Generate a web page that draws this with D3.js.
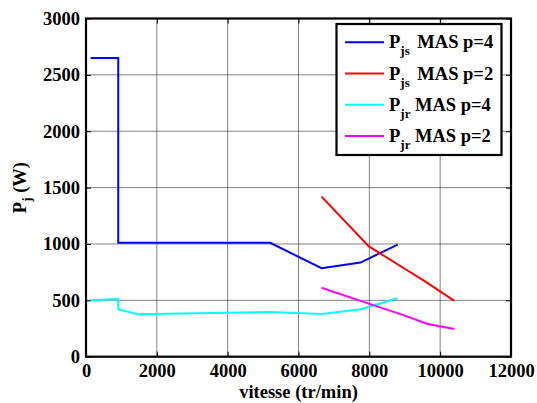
<!DOCTYPE html>
<html><head><meta charset="utf-8">
<script src="https://cdn.jsdelivr.net/npm/d3@7"></script>
<style>body{margin:0;background:#fff}svg{display:block}</style>
</head><body>
<svg id="c" width="537" height="403"></svg>
<script>
const xTicks = [0,2000,4000,6000,8000,10000,12000];
const yTicks = [0,500,1000,1500,2000,2500,3000];
const pjsP4 = [[130,2650],[910,2650],[910,1010],[5200,1010],[6650,785],[7750,835],[8800,995]];
const pjsP2 = [[6650,1420],[7980,980],[9100,760],[9650,652],[10400,495]];
const pjrP4 = [[130,500],[910,512],[910,421],[1450,376],[5200,397],[6650,378],[7750,421],[8800,518]];
const pjrP2 = [[6650,612],[7750,495],[8900,375],[9650,290],[10400,245]];
const seriesNames = ["MAS p=4","MAS p=2","MAS p=4","MAS p=2"];
const seriesSubs = ["js","js","jr","jr"];
const seriesColors = ["#0000ff","#ff0000","#00ffff","#ff00ff"];
const seriesData = [pjsP4,pjsP2,pjrP4,pjrP2];

const svg = d3.select("#c");
const L=86,R=511,T=18.5,B=356.7;
const x = d3.scaleLinear().domain([0,12000]).range([L,R]);
const y = d3.scaleLinear().domain([0,3000]).range([B,T]);
const font = "Liberation Serif";
const fs = "18.5px";

// grid
svg.append("g").selectAll("line").data(xTicks.slice(1,-1)).join("line")
  .attr("x1",d=>x(d)).attr("x2",d=>x(d)).attr("y1",T).attr("y2",B)
  .attr("stroke","#333").attr("stroke-width",0.6);
svg.append("g").selectAll("line").data(yTicks.slice(1,-1)).join("line")
  .attr("y1",d=>y(d)).attr("y2",d=>y(d)).attr("x1",L).attr("x2",R)
  .attr("stroke","#333").attr("stroke-width",0.6);

// axes with inner ticks
const ax = d3.axisBottom(x).tickValues(xTicks).tickSize(-5).tickPadding(7).tickFormat(d3.format("d"));
const ay = d3.axisLeft(y).tickValues(yTicks).tickSize(-5).tickPadding(6).tickFormat(d3.format("d"));
const gx = svg.append("g").attr("transform",`translate(0,${B})`).call(ax);
const gy = svg.append("g").attr("transform",`translate(${L},0)`).call(ay);
const gx2 = svg.append("g").attr("transform",`translate(0,${T})`).call(d3.axisTop(x).tickValues(xTicks).tickSize(-5).tickFormat(""));
const gy2 = svg.append("g").attr("transform",`translate(${R},0)`).call(d3.axisRight(y).tickValues(yTicks).tickSize(-5).tickFormat(""));
[gx,gy,gx2,gy2].forEach(g=>{
  g.attr("font-family",font).attr("font-size",fs).attr("font-weight","bold");
  g.select(".domain").remove();
  g.selectAll("line").attr("stroke","#000").attr("stroke-width",1);
  g.selectAll("text").attr("fill","#000");
});
svg.append("rect").attr("x",L).attr("y",T).attr("width",R-L).attr("height",B-T)
  .attr("fill","none").attr("stroke","#000").attr("stroke-width",2.2);

// lines
const line = d3.line().x(d=>x(d[0])).y(d=>y(d[1]));
seriesData.forEach((d,i)=>{
  svg.append("path").datum(d).attr("d",line).attr("fill","none")
    .attr("stroke",seriesColors[i]).attr("stroke-width",2);
});

// labels
svg.append("text").attr("x",(L+R)/2).attr("y",397.5).attr("text-anchor","middle")
  .attr("font-family",font).attr("font-weight","bold").attr("font-size",fs).text("vitesse (tr/min)");
const yl = svg.append("text").attr("transform",`translate(25.5,${(T+B)/2}) rotate(-90)`).attr("text-anchor","middle")
  .attr("font-family",font).attr("font-weight","bold").attr("font-size",fs);
yl.append("tspan").text("P");
yl.append("tspan").attr("font-size","13px").attr("dy",5).text("j");
yl.append("tspan").attr("dy",-5).text(" (W)");

// legend
const lg = svg.append("g");
lg.append("rect").attr("x",336.5).attr("y",24).attr("width",165).attr("height",131)
  .attr("fill","#fff").attr("stroke","#000").attr("stroke-width",2.2);
seriesNames.forEach((n,i)=>{
  const yy = 42.3 + i*31.2;
  lg.append("line").attr("x1",345).attr("x2",384).attr("y1",yy).attr("y2",yy)
    .attr("stroke",seriesColors[i]).attr("stroke-width",2);
  const t = lg.append("text").attr("x",389).attr("y",yy+6)
    .attr("font-family",font).attr("font-weight","bold").attr("font-size",fs);
  t.append("tspan").text("P");
  t.append("tspan").attr("font-size","13px").attr("dy",7).text(seriesSubs[i]);
  t.append("tspan").attr("dy",-7).attr("dx",seriesSubs[i]==="js"?3:0).text(" "+n);
});
</script>
</body></html>
